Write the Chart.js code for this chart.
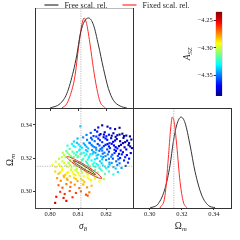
<!DOCTYPE html>
<html><head><meta charset="utf-8">
<script src="https://cdn.jsdelivr.net/npm/chart.js@4.4.1/dist/chart.umd.min.js"></script>
<style>
html,body{margin:0;padding:0;background:#fff;}
#wrap{position:relative;width:240px;height:240px;overflow:hidden;background:#fff}
canvas{position:absolute;left:0;top:0;}
</style></head><body>
<div id="wrap">
<canvas id="cScatter" width="240" height="240"></canvas>
<canvas id="cTop" width="240" height="240"></canvas>
<canvas id="cRight" width="240" height="240"></canvas>
<canvas id="cBar" width="240" height="240"></canvas>
</div>
<script>
// ---------- data ----------
const sigma8Range = [0.7946, 0.8296];
const omegaYRange = [0.2897, 0.3503];
const omegaXRange = [0.2895, 0.3504];
const sigma8Ticks = [0.80, 0.81, 0.82];
const omegaTicks = [0.30, 0.32, 0.34];
const aszTicks = [-4.35, -4.30, -4.25];
const aszRange = [-4.3865, -4.235];
const sigma8Ref = 0.811;
const omegaRef = 0.315;
const legendLabels = ['Free scal. rel.', 'Fixed scal. rel.'];

const freeSigma8X   = [0.8000,0.80357,0.80596,0.80832,0.80954,0.81071,0.81189,0.81368,0.81546,0.81725,0.81904,0.82082,0.82261,0.8250,0.82739];
const freeSigma8Pdf = [0,0.048,0.16,0.41,0.59,0.81,0.94,1.0,0.925,0.70,0.44,0.216,0.085,0.022,0];
const fixedSigma8X   = [0.80418,0.80596,0.80775,0.80893,0.81011,0.81132,0.81214,0.81311,0.81429,0.81546,0.81668,0.81786,0.81964];
const fixedSigma8Pdf = [0,0.048,0.197,0.365,0.664,0.925,1.0,0.925,0.70,0.44,0.216,0.067,0.003];

const freeOmegaX   = [0.30013,0.30531,0.3095,0.31263,0.31469,0.31681,0.3195,0.322,0.32513,0.32825,0.33244,0.33656,0.34075];
const freeOmegaPdf = [0,0.048,0.214,0.47,0.73,0.914,1.0,0.937,0.692,0.40,0.14,0.029,0.003];
const fixedOmegaX   = [0.30638,0.3095,0.31156,0.31306,0.31406,0.31531,0.31681,0.31888,0.32094,0.32306];
const fixedOmegaPdf = [0,0.137,0.548,0.88,1.0,0.937,0.692,0.29,0.067,0.003];

// 68% / 95% contours (sigma8, Omega_m)
const contourOuterS = [0.81845,0.81738,0.81492,0.81173,0.80867,0.80655,0.80595,0.80702,0.80948,0.81267,0.81573,0.81785,0.81845];
const contourOuterO = [0.30765,0.30788,0.30981,0.31291,0.31636,0.31923,0.32075,0.32052,0.31859,0.31549,0.31204,0.30917,0.30765];
const contourInnerS = [0.8162,0.81554,0.81399,0.81196,0.80999,0.80862,0.8082,0.80886,0.81041,0.81244,0.81441,0.81578,0.8162];
const contourInnerO = [0.3100,0.31024,0.31154,0.31355,0.31574,0.31751,0.3184,0.31816,0.31686,0.31485,0.31266,0.31089,0.3100];

// chain samples: [sigma8, Omega_m, A_SZ]
const chainSamples = [
[0.8108,0.3392,-4.338],[0.8172,0.3385,-4.372],[0.8186,0.3398,-4.380],[0.8205,0.3390,-4.377],[0.8215,0.3380,-4.369],[0.8232,0.3375,-4.381],[0.8160,0.3370,-4.360],[0.8248,0.3383,-4.385],
[0.8145,0.3352,-4.355],[0.8168,0.3360,-4.368],[0.8180,0.3345,-4.371],[0.8195,0.3356,-4.374],[0.8210,0.3341,-4.366],[0.8226,0.3350,-4.379],[0.8240,0.3338,-4.375],[0.8258,0.3347,-4.383],[0.8272,0.3336,-4.378],[0.8130,0.3340,-4.350],[0.8155,0.3333,-4.358],[0.8201,0.3332,-4.362],[0.8285,0.3331,-4.381],
[0.8176,0.3338,-4.366],[0.8192,0.3342,-4.372],[0.8220,0.3335,-4.374],[0.8234,0.3328,-4.378],[0.8248,0.3342,-4.382],[0.8264,0.3333,-4.380],[0.8178,0.3308,-4.360],[0.8198,0.3318,-4.366],[0.8232,0.3306,-4.372],[0.8268,0.3296,-4.377],[0.8282,0.3290,-4.380],[0.8150,0.3312,-4.352],[0.8165,0.3330,-4.360],
[0.8098,0.3318,-4.340],[0.8118,0.3325,-4.346],[0.8132,0.3310,-4.348],[0.8146,0.3322,-4.356],[0.8159,0.3302,-4.352],[0.8172,0.3318,-4.364],[0.8186,0.3296,-4.359],[0.8191,0.3326,-4.370],[0.8204,0.3310,-4.366],[0.8218,0.3320,-4.374],[0.8225,0.3298,-4.369],[0.8238,0.3315,-4.377],[0.8250,0.3302,-4.376],[0.8262,0.3322,-4.384],[0.8275,0.3305,-4.380],[0.8290,0.3312,-4.386],[0.8085,0.3300,-4.335],[0.8140,0.3293,-4.345],[0.8212,0.3290,-4.360],
[0.8062,0.3275,-4.322],[0.8078,0.3285,-4.330],[0.8090,0.3268,-4.327],[0.8102,0.3282,-4.336],[0.8114,0.3262,-4.334],[0.8125,0.3278,-4.342],[0.8136,0.3258,-4.338],[0.8148,0.3280,-4.350],[0.8158,0.3266,-4.348],[0.8170,0.3285,-4.358],[0.8180,0.3255,-4.350],[0.8192,0.3272,-4.360],[0.8205,0.3284,-4.368],[0.8214,0.3260,-4.359],[0.8228,0.3276,-4.370],[0.8240,0.3258,-4.366],[0.8253,0.3280,-4.378],[0.8266,0.3265,-4.376],[0.8280,0.3278,-4.383],[0.8292,0.3260,-4.380],[0.8070,0.3255,-4.318],[0.8165,0.3250,-4.345],
[0.8084,0.3272,-4.330],[0.8096,0.3292,-4.338],[0.8108,0.3270,-4.336],[0.8120,0.3288,-4.344],[0.8130,0.3268,-4.340],[0.8142,0.3290,-4.350],[0.8152,0.3272,-4.348],[0.8164,0.3262,-4.348],[0.8176,0.3276,-4.356],[0.8186,0.3262,-4.354],[0.8198,0.3280,-4.364],[0.8210,0.3270,-4.364],[0.8220,0.3286,-4.372],[0.8234,0.3266,-4.370],[0.8246,0.3272,-4.374],[0.8260,0.3290,-4.381],[0.8272,0.3252,-4.372],[0.8286,0.3270,-4.382],[0.8106,0.3252,-4.328],[0.8128,0.3248,-4.334],[0.8186,0.3245,-4.350],[0.8204,0.3252,-4.358],[0.8230,0.3250,-4.364],[0.8252,0.3246,-4.368],
[0.8045,0.3232,-4.305],[0.8058,0.3242,-4.314],[0.8068,0.3222,-4.308],[0.8080,0.3238,-4.320],[0.8092,0.3218,-4.316],[0.8104,0.3246,-4.330],[0.8112,0.3228,-4.326],[0.8124,0.3214,-4.322],[0.8133,0.3240,-4.338],[0.8144,0.3222,-4.334],[0.8155,0.3236,-4.342],[0.8166,0.3215,-4.336],[0.8176,0.3244,-4.352],[0.8188,0.3226,-4.350],[0.8198,0.3212,-4.346],[0.8210,0.3238,-4.360],[0.8222,0.3220,-4.356],[0.8235,0.3242,-4.368],[0.8246,0.3225,-4.364],[0.8260,0.3235,-4.372],[0.8274,0.3218,-4.370],[0.8288,0.3230,-4.378],[0.8100,0.3210,-4.318],[0.8150,0.3248,-4.344],
[0.8050,0.3218,-4.304],[0.8062,0.3232,-4.312],[0.8074,0.3212,-4.310],[0.8086,0.3228,-4.318],[0.8096,0.3236,-4.324],[0.8108,0.3222,-4.322],[0.8120,0.3232,-4.330],[0.8130,0.3222,-4.328],[0.8140,0.3210,-4.326],[0.8152,0.3226,-4.336],[0.8162,0.3232,-4.342],[0.8172,0.3220,-4.340],[0.8182,0.3210,-4.338],[0.8194,0.3232,-4.350],[0.8206,0.3222,-4.350],[0.8218,0.3208,-4.348],[0.8230,0.3230,-4.360],[0.8242,0.3212,-4.356],[0.8256,0.3222,-4.364],[0.8268,0.3205,-4.362],[0.8282,0.3196,-4.366],[0.8042,0.3205,-4.300],[0.8084,0.3206,-4.312],[0.8114,0.3186,-4.318],[0.8134,0.3190,-4.324],[0.8160,0.3192,-4.332],[0.8186,0.3192,-4.340],[0.8210,0.3195,-4.348],[0.8244,0.3192,-4.356],
[0.8032,0.3195,-4.302],[0.8044,0.3180,-4.300],[0.8055,0.3205,-4.306],[0.8066,0.3172,-4.302],[0.8078,0.3198,-4.312],[0.8088,0.3182,-4.310],[0.8098,0.3205,-4.318],[0.8108,0.3175,-4.312],[0.8118,0.3195,-4.322],[0.8128,0.3178,-4.318],[0.8138,0.3202,-4.330],[0.8148,0.3185,-4.328],[0.8158,0.3172,-4.325],[0.8168,0.3198,-4.338],[0.8178,0.3180,-4.336],[0.8190,0.3205,-4.348],[0.8200,0.3188,-4.345],[0.8212,0.3172,-4.342],[0.8224,0.3196,-4.356],[0.8236,0.3180,-4.352],[0.8250,0.3200,-4.364],[0.8264,0.3185,-4.362],[0.8278,0.3172,-4.360],[0.8020,0.3178,-4.298],[0.8072,0.3186,-4.304],
[0.8008,0.3158,-4.292],[0.8020,0.3145,-4.290],[0.8032,0.3162,-4.296],[0.8044,0.3138,-4.292],[0.8056,0.3155,-4.298],[0.8066,0.3168,-4.304],[0.8076,0.3142,-4.298],[0.8086,0.3160,-4.306],[0.8096,0.3135,-4.300],[0.8106,0.3152,-4.308],[0.8116,0.3165,-4.316],[0.8126,0.3140,-4.308],[0.8136,0.3158,-4.318],[0.8146,0.3135,-4.312],[0.8156,0.3150,-4.320],[0.8166,0.3164,-4.328],[0.8176,0.3140,-4.322],[0.8188,0.3155,-4.332],[0.8200,0.3138,-4.328],[0.8212,0.3160,-4.340],[0.8226,0.3145,-4.338],[0.8240,0.3158,-4.348],[0.8255,0.3140,-4.344],[0.8270,0.3152,-4.354],
[0.8038,0.3150,-4.292],[0.8050,0.3170,-4.298],[0.8062,0.3146,-4.296],[0.8072,0.3158,-4.302],[0.8082,0.3172,-4.308],[0.8092,0.3150,-4.304],[0.8102,0.3168,-4.312],[0.8112,0.3144,-4.308],[0.8122,0.3156,-4.314],[0.8132,0.3170,-4.322],[0.8142,0.3148,-4.316],[0.8152,0.3162,-4.324],[0.8162,0.3146,-4.320],[0.8172,0.3156,-4.328],[0.8184,0.3168,-4.336],[0.8196,0.3148,-4.330],[0.8208,0.3146,-4.334],[0.8220,0.3170,-4.344],[0.8234,0.3136,-4.338],[0.8248,0.3168,-4.350],[0.8090,0.3128,-4.300],[0.8110,0.3130,-4.304],[0.8140,0.3124,-4.310],[0.8160,0.3128,-4.316],[0.8180,0.3132,-4.322],
[0.8018,0.3118,-4.286],[0.8030,0.3105,-4.282],[0.8042,0.3125,-4.290],[0.8054,0.3098,-4.284],[0.8064,0.3115,-4.292],[0.8074,0.3128,-4.298],[0.8084,0.3102,-4.290],[0.8094,0.3120,-4.298],[0.8104,0.3095,-4.292],[0.8114,0.3112,-4.300],[0.8124,0.3126,-4.306],[0.8134,0.3100,-4.298],[0.8146,0.3118,-4.308],[0.8158,0.3096,-4.302],[0.8170,0.3112,-4.312],[0.8184,0.3124,-4.322],[0.8196,0.3104,-4.316],[0.8210,0.3118,-4.326],[0.8226,0.3100,-4.324],[0.8242,0.3115,-4.334],
[0.8036,0.3112,-4.286],[0.8048,0.3092,-4.282],[0.8060,0.3108,-4.290],[0.8070,0.3090,-4.286],[0.8080,0.3116,-4.294],[0.8090,0.3096,-4.290],[0.8100,0.3110,-4.298],[0.8120,0.3090,-4.294],[0.8130,0.3112,-4.302],[0.8152,0.3106,-4.304],[0.8166,0.3090,-4.302],[0.8060,0.3075,-4.282],[0.8092,0.3072,-4.284],[0.8116,0.3066,-4.286],[0.8140,0.3072,-4.292],
[0.8025,0.3078,-4.278],[0.8038,0.3062,-4.274],[0.8050,0.3084,-4.282],[0.8062,0.3068,-4.278],[0.8074,0.3052,-4.274],[0.8086,0.3080,-4.286],[0.8098,0.3060,-4.280],[0.8110,0.3074,-4.288],[0.8122,0.3056,-4.282],[0.8134,0.3082,-4.294],[0.8146,0.3064,-4.290],[0.8160,0.3076,-4.298],[0.8176,0.3058,-4.294],[0.8192,0.3072,-4.304],
[0.8030,0.3035,-4.268],[0.8044,0.3020,-4.266],[0.8058,0.3042,-4.272],[0.8072,0.3025,-4.270],[0.8088,0.3038,-4.276],[0.8104,0.3018,-4.272],[0.8118,0.3040,-4.280],[0.8132,0.3022,-4.276],[0.8148,0.3032,-4.282],
[0.8036,0.2995,-4.262],[0.8052,0.2982,-4.260],[0.8070,0.3000,-4.266],[0.8092,0.2988,-4.264],[0.8110,0.2998,-4.270],[0.8128,0.2978,-4.266],[0.8140,0.2992,-4.272],
[0.8022,0.2965,-4.254],[0.8048,0.2958,-4.256],[0.8080,0.2962,-4.260],[0.8134,0.2972,-4.264],[0.8018,0.2928,-4.244],[0.8058,0.2940,-4.250]
];

// ---------- helpers ----------
const SERIF = '"Liberation Serif","DejaVu Serif",serif';
const zip = (xs, ys) => xs.map((x, i) => ({x: x, y: ys[i]}));
const clamp01 = v => Math.min(1, Math.max(0, v));
function jet(v) {
  v = clamp01(v);
  const r = clamp01(1.5 - Math.abs(4 * v - 3));
  const g = clamp01(1.5 - Math.abs(4 * v - 2));
  const b = clamp01(1.5 - Math.abs(4 * v - 1));
  return 'rgb(' + Math.round(r * 255) + ',' + Math.round(g * 255) + ',' + Math.round(b * 255) + ')';
}
const aszNorm = a => (a - aszRange[0]) / (aszRange[1] - aszRange[0]);
const fixTicks = arr => function (s) { s.ticks = arr.map(v => ({value: v})); };

function drawSub(ctx, base, sub, x, y, size, rot, baseStyle, subStyle) {
  ctx.save();
  ctx.translate(x, y);
  ctx.rotate(rot);
  ctx.fillStyle = '#222';
  ctx.textBaseline = 'alphabetic';
  ctx.textAlign = 'left';
  ctx.font = baseStyle + ' ' + size + 'px ' + SERIF;
  const wb = ctx.measureText(base).width;
  const ss = size * 0.7;
  ctx.font = subStyle + ' ' + ss + 'px ' + SERIF;
  const ws = ctx.measureText(sub).width;
  const x0 = -(wb + ws) / 2;
  ctx.font = baseStyle + ' ' + size + 'px ' + SERIF;
  ctx.fillText(base, x0, size * 0.35);
  ctx.font = subStyle + ' ' + ss + 'px ' + SERIF;
  ctx.fillText(sub, x0 + wb, size * 0.35 + size * 0.22);
  ctx.restore();
}

const framePlugin = {
  id: 'panelFrame',
  afterDraw(chart, args, opts) {
    if (!opts || !opts.show) return;
    const a = chart.chartArea, ctx = chart.ctx;
    ctx.save();
    ctx.lineWidth = 1;
    ctx.strokeStyle = opts.color || '#333';
    ctx.strokeRect(Math.round(a.left) + 0.5, Math.round(a.top) + 0.5, Math.round(a.right - a.left), Math.round(a.bottom - a.top));
    if (opts.topColor) {
      ctx.strokeStyle = opts.topColor;
      ctx.beginPath(); ctx.moveTo(Math.round(a.left) + 1, Math.round(a.top) + 0.5); ctx.lineTo(Math.round(a.right), Math.round(a.top) + 0.5); ctx.stroke();
    }
    ctx.restore();
  }
};

const titlesPlugin = {
  id: 'subTitles',
  afterDraw(chart, args, opts) {
    if (!opts || !opts.items) return;
    const a = chart.chartArea;
    for (const it of opts.items) {
      const x = it.ax === 'left' ? a.left + it.dx : (a.left + a.right) / 2 + it.dx;
      const y = it.ay === 'bottom' ? a.bottom + it.dy : (a.top + a.bottom) / 2 + it.dy;
      drawSub(chart.ctx, it.base, it.sub, x, y, it.size, it.rot || 0, it.baseStyle || '', it.subStyle || 'italic');
    }
  }
};

const legendPlugin = {
  id: 'cornerLegend',
  afterDraw(chart, args, opts) {
    if (!opts || !opts.show) return;
    const ctx = chart.ctx;
    const items = chart.data.datasets.filter(d => d.inLegend);
    ctx.save();
    ctx.font = opts.size + 'px ' + SERIF;
    const widths = items.map(d => opts.lineLen + opts.gap + ctx.measureText(d.label).width);
    const total = widths.reduce((s, w) => s + w, 0) + opts.spacing * (items.length - 1);
    let x = opts.cx - total / 2;
    const y = opts.y;
    items.forEach((d, i) => {
      ctx.strokeStyle = d.borderColor;
      ctx.lineWidth = 1.2;
      ctx.beginPath(); ctx.moveTo(x, y); ctx.lineTo(x + opts.lineLen, y); ctx.stroke();
      ctx.fillStyle = '#222';
      ctx.textBaseline = 'middle';
      ctx.textAlign = 'left';
      ctx.fillText(d.label, x + opts.lineLen + opts.gap, y + 0.5);
      x += widths[i] + opts.spacing;
    });
    ctx.restore();
  }
};

Chart.register(framePlugin, titlesPlugin, legendPlugin);
Chart.defaults.font.family = SERIF;
Chart.defaults.color = '#222';

const tickFont = {family: SERIF, size: 6.5};
const baseOpts = {responsive: false, animation: false, events: []};
const curveStyle = (color) => ({borderColor: color, backgroundColor: color, borderWidth: 1, pointRadius: 0, cubicInterpolationMode: 'monotone', fill: false});
const refStyle = {borderColor: '#a8a8a8', borderWidth: 0.8, borderDash: [1.2, 1.2], pointRadius: 0, tension: 0, fill: false};

// ---------- top-left: sigma8 marginal ----------
const topYMax = 1.111;
new Chart(document.getElementById('cTop'), {
  type: 'line',
  data: {datasets: [
    Object.assign({label: legendLabels[0], inLegend: true, data: zip(freeSigma8X, freeSigma8Pdf)}, curveStyle('#333333')),
    Object.assign({label: legendLabels[1], inLegend: true, data: zip(fixedSigma8X, fixedSigma8Pdf)}, curveStyle('#ff2a2a')),
    Object.assign({label: 'ref', data: [{x: sigma8Ref, y: 0}, {x: sigma8Ref, y: topYMax}]}, refStyle)
  ]},
  options: Object.assign({}, baseOpts, {
    layout: {padding: {left: 35, right: 107, top: 8, bottom: 0}},
    plugins: {
      legend: {display: false}, tooltip: {enabled: false},
      panelFrame: {show: true, color: '#333', topColor: '#bbbbbb'},
      cornerLegend: {show: true, size: 8, lineLen: 14, gap: 6, spacing: 15, cx: 117, y: 5}
    },
    scales: {
      x: {type: 'linear', min: sigma8Range[0], max: sigma8Range[1],
          afterBuildTicks: fixTicks(sigma8Ticks), afterFit(s) { s.height = 132; },
          ticks: {display: false}, grid: {drawOnChartArea: false, tickLength: 3, color: '#333'}, border: {color: '#333'}},
      y: {display: false, min: 0, max: topYMax}
    }
  })
});

// ---------- bottom-left: scatter + contours ----------
new Chart(document.getElementById('cScatter'), {
  type: 'scatter',
  data: {datasets: [
    Object.assign({label: 'refH', showLine: true, data: [{x: sigma8Range[0], y: omegaRef}, {x: sigma8Range[1], y: omegaRef}]}, refStyle),
    Object.assign({label: 'refV', showLine: true, data: [{x: sigma8Ref, y: omegaYRange[0]}, {x: sigma8Ref, y: omegaYRange[1]}]}, refStyle),
    {label: '68%', showLine: true, data: zip(contourInnerS, contourInnerO), borderColor: '#8a2c1a', borderWidth: 1, pointRadius: 0, tension: 0.4, fill: false},
    {label: '95%', showLine: true, data: zip(contourOuterS, contourOuterO), borderColor: '#e3342a', borderWidth: 1, pointRadius: 0, tension: 0.4, fill: false},
    {label: 'samples', data: chainSamples.map(p => ({x: p[0], y: p[1]})),
     pointStyle: 'rect', pointRadius: 1.5, pointBorderWidth: 0,
     pointBackgroundColor: chainSamples.map(p => jet(aszNorm(p[2])))}
  ]},
  options: Object.assign({}, baseOpts, {
    layout: {padding: {left: 0, right: 107, top: 108, bottom: 0}},
    plugins: {
      legend: {display: false}, tooltip: {enabled: false},
      panelFrame: {show: true, color: '#444'},
      subTitles: {items: [
        {base: 'σ', sub: '8', ax: 'center', ay: 'bottom', dx: -1, dy: 18, size: 9.5, baseStyle: 'italic', subStyle: ''},
        {base: 'Ω', sub: 'm', ax: 'left', ay: 'center', dx: -25, dy: 2, size: 9.5, rot: -Math.PI / 2, baseStyle: '', subStyle: 'italic'}
      ]}
    },
    scales: {
      x: {type: 'linear', min: sigma8Range[0], max: sigma8Range[1],
          afterBuildTicks: fixTicks(sigma8Ticks), afterFit(s) { s.height = 32; },
          ticks: {font: tickFont, padding: 0, maxRotation: 0, callback: v => v.toFixed(2)},
          grid: {drawOnChartArea: false, tickLength: 2, color: '#333'}, border: {color: '#444'}},
      y: {type: 'linear', min: omegaYRange[0], max: omegaYRange[1],
          afterBuildTicks: fixTicks(omegaTicks), afterFit(s) { s.width = 35; },
          ticks: {font: tickFont, padding: 1, callback: v => v.toFixed(2)},
          grid: {drawOnChartArea: false, tickLength: 2, color: '#333'}, border: {color: '#444'}}
    }
  })
});

// ---------- bottom-right: Omega_m marginal ----------
const rightYMax = 1.10;
new Chart(document.getElementById('cRight'), {
  type: 'line',
  data: {datasets: [
    Object.assign({label: 'ref', data: [{x: omegaRef, y: 0}, {x: omegaRef, y: rightYMax}]}, refStyle),
    Object.assign({label: legendLabels[1], data: zip(fixedOmegaX, fixedOmegaPdf)}, curveStyle('#ff2a2a')),
    Object.assign({label: legendLabels[0], data: zip(freeOmegaX, freeOmegaPdf)}, curveStyle('#333333'))
  ]},
  options: Object.assign({}, baseOpts, {
    layout: {padding: {left: 133, right: 9.5, top: 108, bottom: 0}},
    plugins: {
      legend: {display: false}, tooltip: {enabled: false},
      panelFrame: {show: true, color: '#333'},
      subTitles: {items: [
        {base: 'Ω', sub: 'm', ax: 'center', ay: 'bottom', dx: -1, dy: 18, size: 9.5, baseStyle: '', subStyle: 'italic'}
      ]}
    },
    scales: {
      x: {type: 'linear', min: omegaXRange[0], max: omegaXRange[1],
          afterBuildTicks: fixTicks(omegaTicks), afterFit(s) { s.height = 32; },
          ticks: {font: tickFont, padding: 0, maxRotation: 0, callback: v => v.toFixed(2)},
          grid: {drawOnChartArea: false, tickLength: 2, color: '#333'}, border: {color: '#333'}},
      y: {display: false, min: 0, max: rightYMax}
    }
  })
});

// ---------- colour bar ----------
new Chart(document.getElementById('cBar'), {
  type: 'bar',
  data: {labels: ['A_SZ'], datasets: [{
    label: 'A_SZ', data: [aszRange],
    backgroundColor: (c) => {
      const a = c.chart.chartArea;
      if (!a) return '#888';
      const g = c.chart.ctx.createLinearGradient(0, a.bottom, 0, a.top);
      for (let i = 0; i <= 8; i++) g.addColorStop(i / 8, jet(i / 8));
      return g;
    },
    borderColor: '#222', borderWidth: 0.6, borderSkipped: false,
    barPercentage: 1, categoryPercentage: 1
  }]},
  options: Object.assign({}, baseOpts, {
    layout: {padding: {left: 0, right: 17.7, top: 11.7, bottom: 144}},
    plugins: {
      legend: {display: false}, tooltip: {enabled: false},
      subTitles: {items: [
        {base: 'A', sub: 'SZ', ax: 'left', ay: 'center', dx: -29, dy: 0, size: 9.5, rot: -Math.PI / 2, baseStyle: 'italic', subStyle: 'italic'}
      ]}
    },
    scales: {
      x: {display: false},
      y: {min: aszRange[0], max: aszRange[1],
          afterBuildTicks: fixTicks(aszTicks), afterFit(s) { s.width = 215.7; },
          ticks: {font: tickFont, padding: 1, callback: v => '\u2212' + Math.abs(v).toFixed(2)},
          grid: {drawOnChartArea: false, tickLength: 2, color: '#333'}, border: {display: false}}
    }
  })
});
</script>
</body></html>
